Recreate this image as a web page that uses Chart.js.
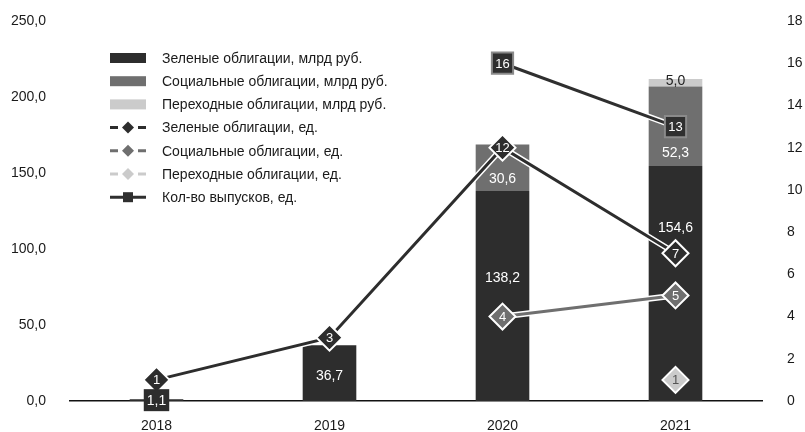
<!DOCTYPE html>
<html>
<head>
<meta charset="utf-8">
<script src="https://cdn.jsdelivr.net/npm/chart.js@4"></script>
<style>
  html, body { margin:0; padding:0; background:#fff; }
  #wrap { position:relative; width:805px; height:432px; }
</style>
</head>
<body>
<div id="wrap"><canvas id="chart" width="805" height="432"></canvas></div>
<script>
// Data
const years = ['2018', '2019', '2020', '2021'];

const greenVolume  = [1.1, 36.7, 138.2, 154.6];
const socialVolume = [null, null, 30.6, 52.3];
const transVolume  = [null, null, null, 5.0];

const greenCount  = [1, 3, 12, 7];
const socialCount = [null, null, 4, 5];
const transCount  = [null, null, null, 1];
const totalIssues = [null, null, 16, 13];

const leftTicks  = [0, 50, 100, 150, 200, 250];
const rightTicks = [0, 2, 4, 6, 8, 10, 12, 14, 16, 18];

// where the value sits inside its bar segment (0 = bottom, 1 = top)
const greenLabelAt  = [0.5, 0.46, 0.59, 0.74];
const socialLabelAt = [null, null, 0.28, 0.18];
const transLabelAt  = [null, null, null, 0.8];

const FONT = "'Liberation Sans', Arial, sans-serif";
const C_GREEN = '#2d2d2d', C_SOCIAL = '#6f6f6f', C_TRANS = '#cbcbcb', C_TOTAL = '#2f2f2f';

const fmt = v => v.toFixed(1).replace('.', ',');

// white halo under lines so they stay visible on dark bars
const lineHalo = {
  id: 'lineHalo',
  beforeDatasetDraw(chart, args) {
    const ds = chart.data.datasets[args.index];
    if (ds.type !== 'line') return;
    const pts = args.meta.data.filter((p, i) => ds.data[i] != null);
    if (pts.length < 2) return;
    const ctx = chart.ctx;
    ctx.save();
    ctx.strokeStyle = '#ffffff';
    ctx.lineWidth = ds.borderWidth + 3;
    ctx.lineJoin = 'round';
    ctx.beginPath();
    pts.forEach((p, i) => i ? ctx.lineTo(p.x, p.y) : ctx.moveTo(p.x, p.y));
    ctx.stroke();
    ctx.restore();
  }
};

// value labels on bars and markers
const valueLabels = {
  id: 'valueLabels',
  afterDatasetsDraw(chart) {
    const ctx = chart.ctx;
    ctx.save();
    ctx.textAlign = 'center';
    ctx.textBaseline = 'middle';
    chart.data.datasets.forEach((ds, di) => {
      const meta = chart.getDatasetMeta(di);
      meta.data.forEach((el, i) => {
        const v = ds.data[i];
        if (v == null) return;
        if (ds.type === 'bar') {
          const top = el.y, bottom = el.base;
          const f = ds.labelAt[i];
          const y = bottom - (bottom - top) * f;
          const txt = fmt(v);
          ctx.font = '14px ' + FONT;
          if (bottom - top < 12 && ds.labelColor === '#ffffff') {
            const w = ctx.measureText(txt).width + 6;
            ctx.fillStyle = ds.backgroundColor;
            ctx.fillRect(el.x - w / 2, y - 11, w, 22);
          }
          ctx.fillStyle = ds.labelColor;
          ctx.fillText(txt, el.x, y + 1);
        } else {
          ctx.font = '13px ' + FONT;
          ctx.fillStyle = ds.valueColor;
          ctx.fillText(String(v), el.x, el.y + 1);
        }
      });
    });
    ctx.restore();
  }
};

// legend drawn inside the plot area
const insideLegend = {
  id: 'insideLegend',
  afterDraw(chart) {
    const ctx = chart.ctx;
    const x0 = 110, x1 = 146, tx = 162, y0 = 58, step = 23.2;
    ctx.save();
    ctx.font = '14px ' + FONT;
    ctx.textBaseline = 'middle';
    ctx.textAlign = 'left';
    chart.data.datasets.forEach((ds, i) => {
      const y = y0 + step * i;
      if (ds.type === 'bar') {
        ctx.fillStyle = ds.backgroundColor;
        ctx.fillRect(x0, y - 5, x1 - x0, 10);
      } else {
        const cx = (x0 + x1) / 2;
        ctx.strokeStyle = ds.borderColor;
        ctx.lineWidth = 3;
        ctx.beginPath();
        if (ds.pointStyle === 'rect') {
          ctx.moveTo(x0, y); ctx.lineTo(x1, y);
          ctx.stroke();
          ctx.fillStyle = ds.pointBackgroundColor;
          ctx.fillRect(cx - 5, y - 5, 10, 10);
        } else {
          ctx.moveTo(x0, y); ctx.lineTo(x0 + 8, y);
          ctx.moveTo(x1 - 8, y); ctx.lineTo(x1, y);
          ctx.stroke();
          ctx.fillStyle = ds.pointBackgroundColor;
          ctx.beginPath();
          ctx.moveTo(cx, y - 6); ctx.lineTo(cx + 6, y);
          ctx.lineTo(cx, y + 6); ctx.lineTo(cx - 6, y);
          ctx.closePath();
          ctx.fill();
        }
      }
      ctx.fillStyle = '#1a1a1a';
      ctx.fillText(ds.label, tx, y + 1);
    });
    ctx.restore();
  }
};

const barDs = (label, data, color, labelAt, labelColor) => ({
  type: 'bar', label, data, yAxisID: 'y', stack: 'vol', order: 2,
  backgroundColor: color, borderWidth: 0,
  barPercentage: 0.62, categoryPercentage: 0.5,
  labelAt, labelColor
});

const lineDs = (label, data, color, style, radius, edge, valueColor) => ({
  type: 'line', label, data, yAxisID: 'y1', order: 1,
  borderColor: color, borderWidth: 3, tension: 0, spanGaps: false,
  pointStyle: style, pointRadius: radius, pointHoverRadius: radius,
  pointBackgroundColor: color, pointBorderColor: edge, pointBorderWidth: 2,
  valueColor
});

// side axes: fixed width, and no extra vertical padding from the tick gap
const sideFit = w => s => { s.width = w; s.paddingTop = 0; s.paddingBottom = 0; };

new Chart(document.getElementById('chart'), {
  data: {
    labels: years,
    datasets: [
      barDs('Зеленые облигации, млрд руб.', greenVolume, C_GREEN, greenLabelAt, '#ffffff'),
      barDs('Социальные облигации, млрд руб.', socialVolume, C_SOCIAL, socialLabelAt, '#ffffff'),
      barDs('Переходные облигации, млрд руб.', transVolume, C_TRANS, transLabelAt, '#222222'),
      lineDs('Зеленые облигации, ед.', greenCount, C_GREEN, 'rectRot', 13, '#ffffff', '#ffffff'),
      lineDs('Социальные облигации, ед.', socialCount, C_SOCIAL, 'rectRot', 13, '#ffffff', '#ffffff'),
      lineDs('Переходные облигации, ед.', transCount, C_TRANS, 'rectRot', 13, '#ffffff', '#555555'),
      lineDs('Кол-во выпусков, ед.', totalIssues, C_TOTAL, 'rect', 15, '#8a8a8a', '#ffffff')
    ]
  },
  options: {
    responsive: false,
    animation: false,
    layout: { padding: { top: 21, left: 0, right: 0, bottom: 0 } },
    plugins: { legend: { display: false }, tooltip: { enabled: false } },
    scales: {
      x: {
        stacked: true,
        grid: { display: false, drawTicks: false },
        border: { display: true, color: '#111', width: 1.5 },
        ticks: { color: '#1a1a1a', font: { family: FONT, size: 14 }, padding: 17 },
        afterFit: s => { s.height = 31; }
      },
      y: {
        position: 'left', stacked: true, min: 0, max: 250,
        grid: { display: false, drawTicks: false },
        border: { display: false },
        afterBuildTicks: s => { s.ticks = leftTicks.map(v => ({ value: v })); },
        ticks: { color: '#1a1a1a', font: { family: FONT, size: 14 }, padding: 24, callback: v => fmt(v) },
        afterFit: sideFit(70)
      },
      y1: {
        position: 'right', min: 0, max: 18,
        grid: { display: false, drawTicks: false },
        border: { display: false },
        afterBuildTicks: s => { s.ticks = rightTicks.map(v => ({ value: v })); },
        ticks: { color: '#1a1a1a', font: { family: FONT, size: 14 }, padding: 25 },
        afterFit: sideFit(43)
      }
    }
  },
  plugins: [lineHalo, valueLabels, insideLegend]
});
</script>
</body>
</html>
